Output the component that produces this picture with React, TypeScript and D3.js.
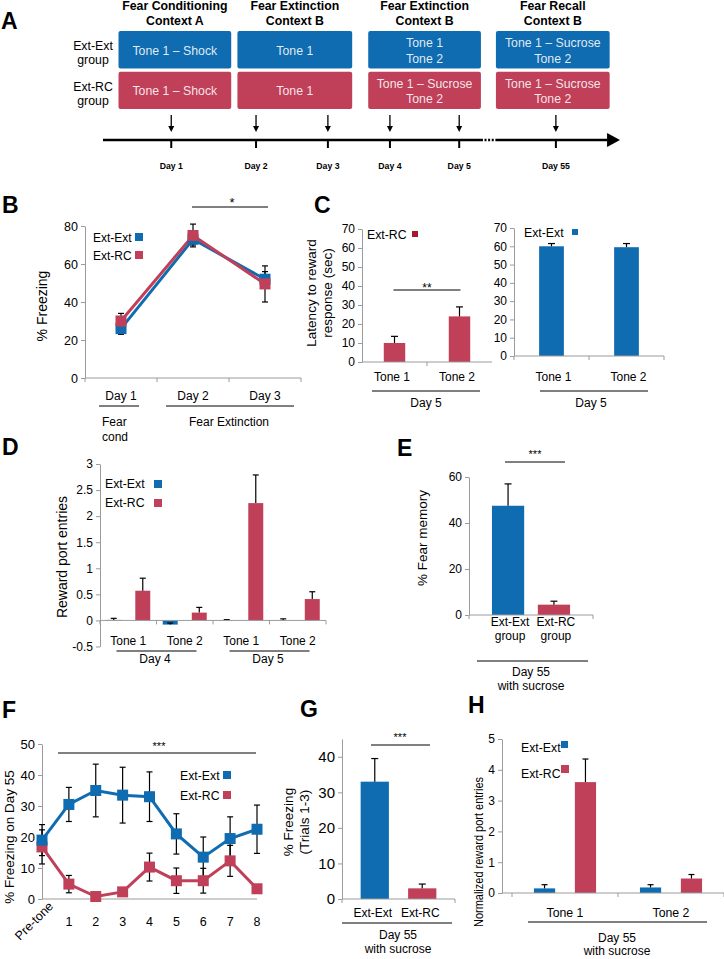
import * as d3 from 'd3';
import { useEffect, useRef } from 'react';

const FONT = "'Liberation Sans', Arial, Helvetica, sans-serif";
const BLUE = '#0f6cb0';
const RED = '#c0405a';
const DARK_RED = '#a5192e';
const AXIS = '#9b9b9b';

// A: protocol schematic (spans and days in % of the timeline arrow)
const PHASES = ['Fear Conditioning', 'Fear Extinction', 'Fear Extinction', 'Fear Recall'];
const CONTEXTS = ['Context A', 'Context B', 'Context B', 'Context B'];
const PHASE_SPANS = [[3, 24.8], [26, 48.2], [51.3, 73.1], [76, 98]];
const GROUPS = ['Ext-Ext', 'Ext-RC'];
const EXT_EXT_PROTOCOL = [['Tone 1 – Shock'], ['Tone 1'], ['Tone 1', 'Tone 2'], ['Tone 1 – Sucrose', 'Tone 2']];
const EXT_RC_PROTOCOL = [['Tone 1 – Shock'], ['Tone 1'], ['Tone 1 – Sucrose', 'Tone 2'], ['Tone 1 – Sucrose', 'Tone 2']];
const TIMELINE_DAYS = ['Day 1', 'Day 2', 'Day 3', 'Day 4', 'Day 5', 'Day 55'];
const TIMELINE_AT = [13.2, 29.6, 43.5, 55.5, 68.9, 87.6];

// B: % freezing over conditioning / extinction
const B_DAYS = ['Day 1', 'Day 2', 'Day 3'];
const B_EXT_EXT = [26, 73, 52];
const B_EXT_EXT_SEM = [3, 3, 4];
const B_EXT_RC = [30, 75, 49.5];
const B_EXT_RC_SEM = [4, 6, 9.5];

// C: latency to reward response, day 5
const C_TONES = ['Tone 1', 'Tone 2'];
const C_EXT_RC = [10, 24];
const C_EXT_RC_SEM = [3.5, 5];
const C_EXT_EXT = [60, 59.5];
const C_EXT_EXT_SEM = [1.5, 2];

// D: reward port entries, days 4-5
const D_GROUPS = ['d4t1', 'd4t2', 'd5t1', 'd5t2'];
const D_TICKS = ['Tone 1', 'Tone 2', 'Tone 1', 'Tone 2'];
const D_DAYS = ['Day 4', 'Day 5'];
const D_EXT_EXT = [0.01, -0.08, 0.005, 0];
const D_EXT_EXT_SEM = [0.03, 0.03, 0.01, 0.03];
const D_EXT_RC = [0.57, 0.15, 2.25, 0.41];
const D_EXT_RC_SEM = [0.24, 0.1, 0.54, 0.14];

// E: % fear memory, day 55
const E_LABELS = [['Ext-Ext', 'group'], ['Ext-RC', 'group']];
const E_VALUES = [47.5, 4.5];
const E_SEM = [9.5, 1.5];

// F: freezing per trial on day 55
const F_TRIALS = ['Pre-tone', '1', '2', '3', '4', '5', '6', '7', '8'];
const F_EXT_EXT = [19, 30.5, 35, 33.5, 33, 21, 13.5, 19.5, 22.5];
const F_EXT_EXT_SEM = [5, 5.5, 8.5, 9, 8, 6.5, 6.5, 7, 7.8];
const F_EXT_RC = [16.8, 4.8, 0.8, 2.3, 10.3, 5.9, 5.9, 12.3, 3.3];
const F_EXT_RC_SEM = [5.5, 2.8, 0.5, 0.8, 4.5, 4.1, 4, 5, 0.8];

// G: % freezing trials 1-3
const G_GROUPS = ['Ext-Ext', 'Ext-RC'];
const G_VALUES = [33, 3];
const G_SEM = [6.5, 1.2];

// H: normalized reward port entries
const H_TONES = ['Tone 1', 'Tone 2'];
const H_EXT_EXT = [0.15, 0.18];
const H_EXT_EXT_SEM = [0.12, 0.09];
const H_EXT_RC = [3.6, 0.47];
const H_EXT_RC_SEM = [0.75, 0.13];

type G = d3.Selection<any, unknown, null, undefined>;
type TextOpts = { anchor?: string; weight?: string; fill?: string; rotate?: boolean; len?: number };

function text(g: G, x: number, y: number, s: string, size: number, o: TextOpts = {}) {
    const t = g
        .append('text')
        .attr('x', x)
        .attr('y', y)
        .attr('font-size', size)
        .attr('text-anchor', o.anchor ?? 'middle')
        .attr('fill', o.fill ?? '#000')
        .text(s);
    if (o.weight) t.attr('font-weight', o.weight);
    if (o.rotate) t.attr('dy', '0.35em').attr('transform', `rotate(-90,${x},${y})`);
    if (o.len) t.attr('textLength', o.len).attr('lengthAdjust', 'spacingAndGlyphs');
    return t;
}

function letter(g: G, s: string, x: number, y: number) {
    text(g, x, y, s, 23, { anchor: 'start', weight: 'bold' });
}

function hline(g: G, x1: number, x2: number, y: number, color = '#000', w = 1) {
    g.append('line').attr('x1', x1).attr('x2', x2).attr('y1', y).attr('y2', y).attr('stroke', color).attr('stroke-width', w);
}

function yAxis(g: G, y: d3.ScaleLinear<number, number>, x0: number, ticks: number[], size: number) {
    const ax = g
        .append('g')
        .attr('transform', `translate(${x0},0)`)
        .call(d3.axisLeft(y).tickValues(ticks).tickSize(4).tickSizeOuter(0).tickPadding(3).tickFormat((d) => String(d)));
    ax.attr('font-family', FONT).attr('font-size', size);
    ax.select('.domain').attr('stroke', AXIS);
    ax.selectAll('.tick line').attr('stroke', AXIS);
    ax.selectAll('.tick text').attr('fill', '#000');
}

// Excel-style category axis: ticks at band edges
function xEdges(g: G, x: d3.ScaleBand<string>, y0: number, from: number, to: number) {
    hline(g, from, to, y0, AXIS);
    const dom = x.domain();
    const edges = dom.map((d) => x(d)!).concat([x(dom[dom.length - 1])! + x.bandwidth()]);
    edges.forEach((e) =>
        g.append('line').attr('x1', e).attr('x2', e).attr('y1', y0).attr('y2', y0 + 4).attr('stroke', AXIS),
    );
}

function errBar(g: G, cx: number, y1: number, y2: number, cap = 6) {
    g.append('line').attr('x1', cx).attr('x2', cx).attr('y1', y1).attr('y2', y2).attr('stroke', '#000').attr('stroke-width', 1.2);
    hline(g, cx - cap / 2, cx + cap / 2, y2, '#000', 1.2);
}

function bar(g: G, cx: number, w: number, yv: number, y0: number, fill: string) {
    g.append('rect')
        .attr('x', cx - w / 2)
        .attr('y', Math.min(yv, y0))
        .attr('width', w)
        .attr('height', Math.abs(y0 - yv))
        .attr('fill', fill);
}

function swatch(g: G, x: number, y: number, s: number, fill: string) {
    g.append('rect').attr('x', x).attr('y', y).attr('width', s).attr('height', s).attr('fill', fill);
}

function drawA(g: G) {
    letter(g, 'A', 1, 29);
    const t = d3.scaleLinear().domain([0, 100]).range([103, 620]);
    const rows = d3.scaleBand().domain(GROUPS).range([31, 109]).paddingInner(0.08);
    const protocols = [EXT_EXT_PROTOCOL, EXT_RC_PROTOCOL];
    const fills = [BLUE, RED];

    PHASES.forEach((p, i) => {
        const [a, b] = PHASE_SPANS[i];
        const cx = (t(a) + t(b)) / 2;
        text(g, cx, 10, p, 12.3, { weight: 'bold' });
        text(g, cx, 25, CONTEXTS[i], 12.3, { weight: 'bold' });
        GROUPS.forEach((r, j) => {
            const y0 = rows(r)!;
            g.append('rect')
                .attr('x', t(a))
                .attr('y', y0)
                .attr('width', t(b) - t(a))
                .attr('height', rows.bandwidth())
                .attr('rx', 2)
                .attr('fill', fills[j]);
            const lines = protocols[j][i];
            const mid = y0 + rows.bandwidth() / 2 + 0.8;
            lines.forEach((s, k) =>
                text(g, cx, mid + (k - (lines.length - 1) / 2) * 15.6 + 4.3, s, 12.3, { fill: 'rgba(255,255,255,0.88)' }),
            );
        });
    });

    GROUPS.forEach((r) => {
        const mid = rows(r)! + rows.bandwidth() / 2;
        text(g, 93, mid - 3.5 + 4.3, r, 12.3);
        text(g, 93, mid + 10.5 + 4.3, 'group', 12.3);
    });

    const ly = 140;
    const breakA = PHASE_SPANS[2][1];
    const breakB = PHASE_SPANS[3][0];
    hline(g, t(0), t(breakA), ly, '#000', 2.5);
    g.append('line')
        .attr('x1', t(breakA))
        .attr('x2', t(breakB))
        .attr('y1', ly)
        .attr('y2', ly)
        .attr('stroke', '#000')
        .attr('stroke-width', 2.5)
        .attr('stroke-dasharray', '2,1.6');
    hline(g, t(breakB), t(97.5), ly, '#000', 2.5);
    g.append('path')
        .attr('d', `M${t(97.5)},${ly - 7}L${t(100)},${ly}L${t(97.5)},${ly + 7}Z`)
        .attr('fill', '#000');

    TIMELINE_DAYS.forEach((d, i) => {
        const x = t(TIMELINE_AT[i]);
        g.append('line').attr('x1', x).attr('x2', x).attr('y1', 115).attr('y2', 127).attr('stroke', '#000').attr('stroke-width', 1.3);
        g.append('path').attr('d', `M${x - 3},${126}L${x + 3},${126}L${x},${132}Z`).attr('fill', '#000');
        g.append('line').attr('x1', x).attr('x2', x).attr('y1', ly).attr('y2', ly + 8).attr('stroke', '#000').attr('stroke-width', 2);
        text(g, x, 169, d, 8.7, { weight: 'bold' });
    });
}

function drawB(g: G) {
    letter(g, 'B', 2, 213);
    const y = d3.scaleLinear().domain([0, 80]).range([378, 226]);
    const x = d3.scaleBand().domain(B_DAYS).range([85, 301]);
    const cx = (i: number) => x(B_DAYS[i])! + x.bandwidth() / 2;
    yAxis(g, y, 85, [0, 20, 40, 60, 80], 12.5);
    xEdges(g, x, y(0), 85, 301);
    text(g, 42, 306, '% Freezing', 14, { rotate: true });

    const line = d3.line<number>().x((_, i) => cx(i)).y((v) => y(v));
    const series = [
        { v: B_EXT_EXT, sem: B_EXT_EXT_SEM, c: BLUE },
        { v: B_EXT_RC, sem: B_EXT_RC_SEM, c: RED },
    ];
    series.forEach((s) => g.append('path').attr('d', line(s.v)).attr('fill', 'none').attr('stroke', s.c).attr('stroke-width', 3));
    series.forEach((s) =>
        s.v.forEach((v, i) => {
            errBar(g, cx(i), y(v), y(v + s.sem[i]));
            errBar(g, cx(i), y(v), y(v - s.sem[i]));
        }),
    );
    series.forEach((s) => s.v.forEach((v, i) => swatch(g, cx(i) - 5.5, y(v) - 5.5, 11, s.c)));

    // legend
    text(g, 93, 241.5, 'Ext-Ext', 12, { anchor: 'start' });
    swatch(g, 135, 233, 8, BLUE);
    text(g, 93, 259.5, 'Ext-RC', 12, { anchor: 'start' });
    swatch(g, 135, 251, 8, RED);

    // significance Day 2 vs Day 3
    hline(g, cx(1) - 1, cx(2) + 3, 207);
    text(g, (cx(1) + cx(2)) / 2 + 3, 207, '*', 13);

    B_DAYS.forEach((d, i) => text(g, cx(i), 400, d, 12));
    hline(g, cx(0) - 22, cx(0) + 18, 406);
    hline(g, cx(1) - 27, cx(2) + 29, 406);
    text(g, cx(0) - 19, 426, 'Fear', 12, { anchor: 'start' });
    text(g, cx(0) - 19, 441, 'cond', 12, { anchor: 'start' });
    text(g, (cx(1) + cx(2)) / 2, 426, 'Fear Extinction', 12);
}

function drawC(g: G) {
    letter(g, 'C', 314, 213);
    const ticks = d3.range(0, 71, 10);

    // left: Ext-RC
    const yl = d3.scaleLinear().domain([0, 70]).range([362, 229]);
    const xl = d3.scaleBand().domain(C_TONES).range([362, 492]);
    const cl = (i: number) => xl(C_TONES[i])! + xl.bandwidth() / 2;
    yAxis(g, yl, 362, ticks, 12);
    C_EXT_RC.forEach((v, i) => {
        bar(g, cl(i), xl.bandwidth() * 0.33, yl(v), yl(0), RED);
        errBar(g, cl(i), yl(v), yl(v + C_EXT_RC_SEM[i]), 7);
    });
    hline(g, 362, 492, yl(0), AXIS);
    g.append('line')
        .attr('x1', cl(0) + xl.bandwidth() / 2)
        .attr('x2', cl(0) + xl.bandwidth() / 2)
        .attr('y1', yl(0))
        .attr('y2', yl(0) + 4)
        .attr('stroke', AXIS);
    text(g, 311, 293, 'Latency to reward', 13.5, { rotate: true });
    text(g, 327, 293, 'response (sec)', 13.5, { rotate: true });
    text(g, 367, 238.5, 'Ext-RC', 12.3, { anchor: 'start' });
    swatch(g, 412, 231, 6, DARK_RED);
    hline(g, cl(0) - 1, cl(1) + 1, 290);
    text(g, (cl(0) + cl(1)) / 2, 292, '**', 12);
    C_TONES.forEach((d, i) => text(g, cl(i) - 2.5, 381, d, 12));
    hline(g, 372, 480, 391);
    text(g, 426, 407, 'Day 5', 12);

    // right: Ext-Ext
    const yr = d3.scaleLinear().domain([0, 70]).range([356, 228]);
    const xr = d3.scaleBand().domain(C_TONES).range([514, 664]);
    const cr = (i: number) => xr(C_TONES[i])! + xr.bandwidth() / 2;
    yAxis(g, yr, 514, ticks, 12);
    C_EXT_EXT.forEach((v, i) => {
        bar(g, cr(i), xr.bandwidth() * 0.33, yr(v), yr(0), BLUE);
        errBar(g, cr(i), yr(v), yr(v + C_EXT_EXT_SEM[i]), 7);
    });
    xEdges(g, xr, yr(0), 514, 664);
    text(g, 524, 236.5, 'Ext-Ext', 12.3, { anchor: 'start' });
    swatch(g, 572, 229, 6, BLUE);
    C_TONES.forEach((d, i) => text(g, cr(i) + 2, 381, d, 12));
    hline(g, 540, 648, 391);
    text(g, 591, 407, 'Day 5', 12);
}

function drawD(g: G) {
    letter(g, 'D', 2, 455);
    const y = d3.scaleLinear().domain([-0.5, 3]).range([646.5, 464]);
    const x = d3.scaleBand().domain(D_GROUPS).range([100, 326]);
    const bw = x.bandwidth();
    const cx = (i: number) => x(D_GROUPS[i])! + bw / 2;
    yAxis(g, y, 100, [-0.5, 0, 0.5, 1, 1.5, 2, 2.5, 3], 12);
    text(g, 62, 557, 'Reward port entries', 14, { rotate: true });

    const series = [
        { v: D_EXT_EXT, sem: D_EXT_EXT_SEM, c: BLUE, off: -0.257 },
        { v: D_EXT_RC, sem: D_EXT_RC_SEM, c: RED, off: 0.257 },
    ];
    series.forEach((s) =>
        s.v.forEach((v, i) => {
            const bx = cx(i) + s.off * bw;
            bar(g, bx, bw * 0.265, y(v), y(0), s.c);
            errBar(g, bx, y(v), y(v + s.sem[i]), 6);
        }),
    );
    xEdges(g, x, y(0), 100, 326);

    text(g, 105, 487.5, 'Ext-Ext', 12.3, { anchor: 'start' });
    swatch(g, 154, 480, 8, BLUE);
    text(g, 105, 506.5, 'Ext-RC', 12.3, { anchor: 'start' });
    swatch(g, 154, 499, 8, RED);

    D_TICKS.forEach((d, i) => text(g, cx(i), 645, d, 12));
    D_DAYS.forEach((d, k) => {
        const mid = (cx(2 * k) + cx(2 * k + 1)) / 2;
        hline(g, mid - 40, mid + 40, 651);
        text(g, mid - 1.5, 663, d, 12);
    });
}

function drawE(g: G) {
    letter(g, 'E', 397, 456);
    const y = d3.scaleLinear().domain([0, 60]).range([615, 477]);
    const x = d3.scaleBand().domain(['Day 55']).range([469, 593]);
    const bw = x.bandwidth();
    const c0 = x('Day 55')! + bw / 2;
    yAxis(g, y, 469, [0, 20, 40, 60], 12);
    text(g, 422, 538, '% Fear memory', 13.5, { rotate: true });
    const fills = [BLUE, RED];
    const offs = [-0.185, 0.185];
    E_VALUES.forEach((v, i) => {
        const bx = c0 + offs[i] * bw;
        bar(g, bx, bw * 0.26, y(v), y(0), fills[i]);
        errBar(g, bx, y(v), y(v + E_SEM[i]), 7);
        text(g, bx + 2, 626, E_LABELS[i][0], 12);
        text(g, bx + 2, 640, E_LABELS[i][1], 12);
    });
    xEdges(g, x, y(0), 469, 593);
    hline(g, 505, 565, 462);
    text(g, 535, 458, '***', 11);
    hline(g, 477, 588, 661);
    text(g, 531, 676, 'Day 55', 12);
    text(g, 531, 690, 'with sucrose', 12);
}

function drawF(g: G) {
    letter(g, 'F', 2, 718);
    const y = d3.scaleLinear().domain([0, 50]).range([899, 744]);
    const x = d3.scalePoint().domain(F_TRIALS).range([42, 257]);
    const px = (i: number) => x(F_TRIALS[i])!;
    yAxis(g, y, 42, d3.range(0, 51, 10), 13);
    hline(g, 42, 257, y(0), AXIS);
    text(g, 9, 837, '% Freezing on Day 55', 13.5, { rotate: true });

    const line = d3.line<number>().x((_, i) => px(i)).y((v) => y(v));
    const series = [
        { v: F_EXT_RC, sem: F_EXT_RC_SEM, c: RED },
        { v: F_EXT_EXT, sem: F_EXT_EXT_SEM, c: BLUE },
    ];
    series.forEach((s) => g.append('path').attr('d', line(s.v)).attr('fill', 'none').attr('stroke', s.c).attr('stroke-width', 3));
    series.forEach((s) =>
        s.v.forEach((v, i) => {
            errBar(g, px(i), y(v), y(v + s.sem[i]));
            errBar(g, px(i), y(v), y(Math.max(0, v - s.sem[i])));
        }),
    );
    series.forEach((s) => s.v.forEach((v, i) => swatch(g, px(i) - 5.5, y(v) - 5.5, 11, s.c)));

    F_TRIALS.forEach((d, i) => {
        if (i === 0) {
            g.append('text')
                .attr('x', px(i) + 12)
                .attr('y', 907)
                .attr('font-size', 12.5)
                .attr('text-anchor', 'end')
                .attr('transform', `rotate(-45,${px(i) + 12},907)`)
                .text(d);
        } else {
            text(g, px(i), 926, d, 12.5);
        }
    });

    hline(g, 58, 256, 753);
    text(g, 159, 750, '***', 11);
    text(g, 180, 779.5, 'Ext-Ext', 12.3, { anchor: 'start' });
    swatch(g, 223, 771, 8, BLUE);
    text(g, 180, 799.5, 'Ext-RC', 12.3, { anchor: 'start' });
    swatch(g, 223, 791, 8, RED);
}

function drawG(g: G) {
    letter(g, 'G', 300, 717);
    const y = d3.scaleLinear().domain([0, 45]).range([899, 739]);
    const x = d3.scaleBand().domain(['Day 55']).range([342, 455]);
    const bw = x.bandwidth();
    const c0 = x('Day 55')! + bw / 2;
    yAxis(g, y, 342, d3.range(0, 41, 10), 15);
    text(g, 288, 822, '% Freezing', 13.5, { rotate: true });
    text(g, 304, 822, '(Trials 1-3)', 13.5, { rotate: true });
    const fills = [BLUE, RED];
    const offs = [-0.21, 0.21];
    G_VALUES.forEach((v, i) => {
        const bx = c0 + offs[i] * bw;
        bar(g, bx, bw * 0.25, y(v), y(0), fills[i]);
        errBar(g, bx, y(v), y(v + G_SEM[i]), 7);
        text(g, bx - 2, 917, G_GROUPS[i], 12);
    });
    xEdges(g, x, y(0), 342, 455);
    hline(g, 371, 430, 745);
    text(g, 400, 741, '***', 11);
    hline(g, 342, 452, 923);
    text(g, 398, 939, 'Day 55', 12);
    text(g, 398, 953, 'with sucrose', 12);
}

function drawH(g: G) {
    letter(g, 'H', 468, 713);
    const y = d3.scaleLinear().domain([0, 5]).range([893, 739]);
    const x = d3.scaleBand().domain(H_TONES).range([512, 724]);
    const bw = x.bandwidth();
    const cx = (i: number) => x(H_TONES[i])! + bw / 2;
    yAxis(g, y, 502, d3.range(0, 6), 12);
    text(g, 478, 852, 'Normalized reward port entries', 13, { rotate: true, len: 150 });
    const series = [
        { v: H_EXT_EXT, sem: H_EXT_EXT_SEM, c: BLUE, off: -0.193 },
        { v: H_EXT_RC, sem: H_EXT_RC_SEM, c: RED, off: 0.193 },
    ];
    series.forEach((s) =>
        s.v.forEach((v, i) => {
            const bx = cx(i) + s.off * bw;
            bar(g, bx, bw * 0.2, y(v), y(0), s.c);
            errBar(g, bx, y(v), y(v + s.sem[i]), 6);
        }),
    );
    hline(g, 502, 512, y(0), AXIS);
    xEdges(g, x, y(0), 512, 724);
    text(g, 521, 751.5, 'Ext-Ext', 12.3, { anchor: 'start' });
    swatch(g, 561, 741, 7, BLUE);
    text(g, 521, 777.5, 'Ext-RC', 12.3, { anchor: 'start' });
    swatch(g, 561, 765, 8, RED);
    H_TONES.forEach((d, i) => text(g, cx(i), 917, d, 12.3));
    hline(g, 528, 707, 922);
    text(g, 617, 942, 'Day 55', 12);
    text(g, 617, 955, 'with sucrose', 12);
}

export default function App() {
    const svgRef = useRef<SVGSVGElement>(null);

    useEffect(() => {
        if (!svgRef.current) {
            return;
        }
        const svg = d3.select(svgRef.current);
        svg.selectAll('*').remove();
        const root = svg.append('g').attr('font-family', FONT) as G;
        drawA(root);
        drawB(root);
        drawC(root);
        drawD(root);
        drawE(root);
        drawF(root);
        drawG(root);
        drawH(root);
    }, []);

    return (
        <svg
            ref={svgRef}
            width={724}
            height={959}
            style={{ position: 'absolute', left: 0, top: 0, background: '#fff', display: 'block' }}
        />
    );
}
